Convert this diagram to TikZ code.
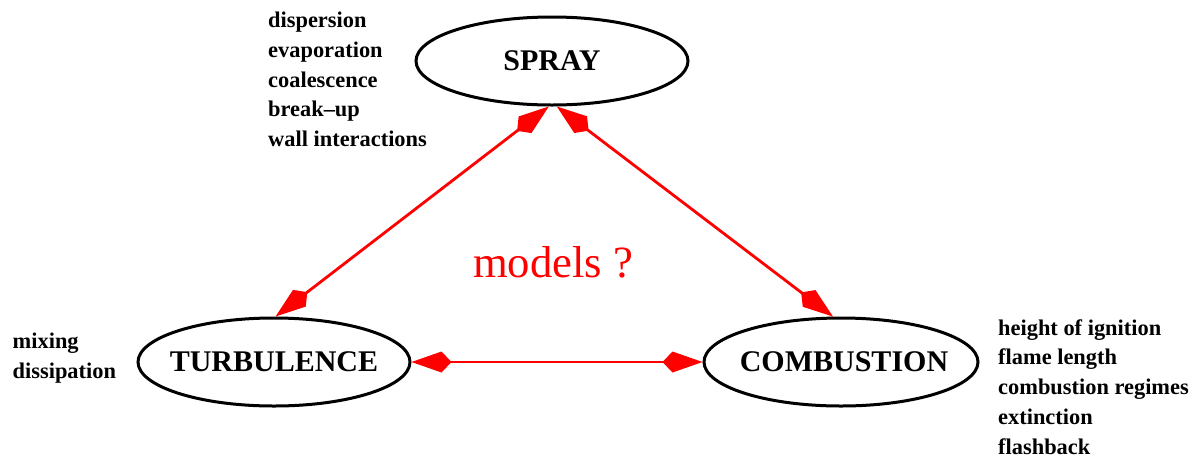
\documentclass[tikz,border=0pt]{standalone}
\usepackage{fontspec}
\setmainfont{Liberation Serif}
\usetikzlibrary{arrows.meta,shapes.geometric}
\begin{document}
\begin{tikzpicture}[x=1pt,y=-1pt,
  bubble/.style={ellipse,draw=black,line width=3pt,inner sep=0pt,minimum width=272pt,minimum height=88pt},
  bubbletext/.style={inner sep=0pt,font=\fontsize{30}{36}\selectfont\bfseries},
  notes/.style={inner sep=0pt,align=left,anchor=base west,
    font=\fontsize{22.4}{29.75}\selectfont\bfseries},
  link/.style={draw=red,line width=2.8pt,{Kite[length=40pt,width=21pt,inset=10pt]}-{Kite[length=40pt,width=21pt,inset=10pt]}},
  ]
\useasboundingbox (0,0) rectangle (1195,456);
\node[bubble] (spray) at (552,61) {};
\node[bubble] (turb) at (274,362) {};
\node[bubble,minimum width=274pt] (comb) at (841,362) {};
\node[bubbletext] (spraytext) at (spray) {SPRAY};
\node[bubbletext] (turbtext) at (turb) {TURBULENCE};
\node[bubbletext,xshift=3pt] (combtext) at (comb) {COMBUSTION};
\node[notes] (sprayn) at (268,146.7) {dispersion\\evaporation\\coalescence\\break--up\\wall interactions};
\node[notes] (turbn) at (12.5,378) {mixing\\dissipation};
\node[notes] (combn) at (998,454) {height of ignition\\flame length\\combustion regimes\\extinction\\flashback};
\node[inner sep=0pt,anchor=base west,text=red,font=\fontsize{44.7}{50}\selectfont] (models) at (473,277) {models ?};
\draw[link] (spray.266) -- (turb.88);
\draw[link] (spray.276) -- (comb.100);
\draw[link] (turb.east) -- (comb.west);
\end{tikzpicture}
\end{document}
